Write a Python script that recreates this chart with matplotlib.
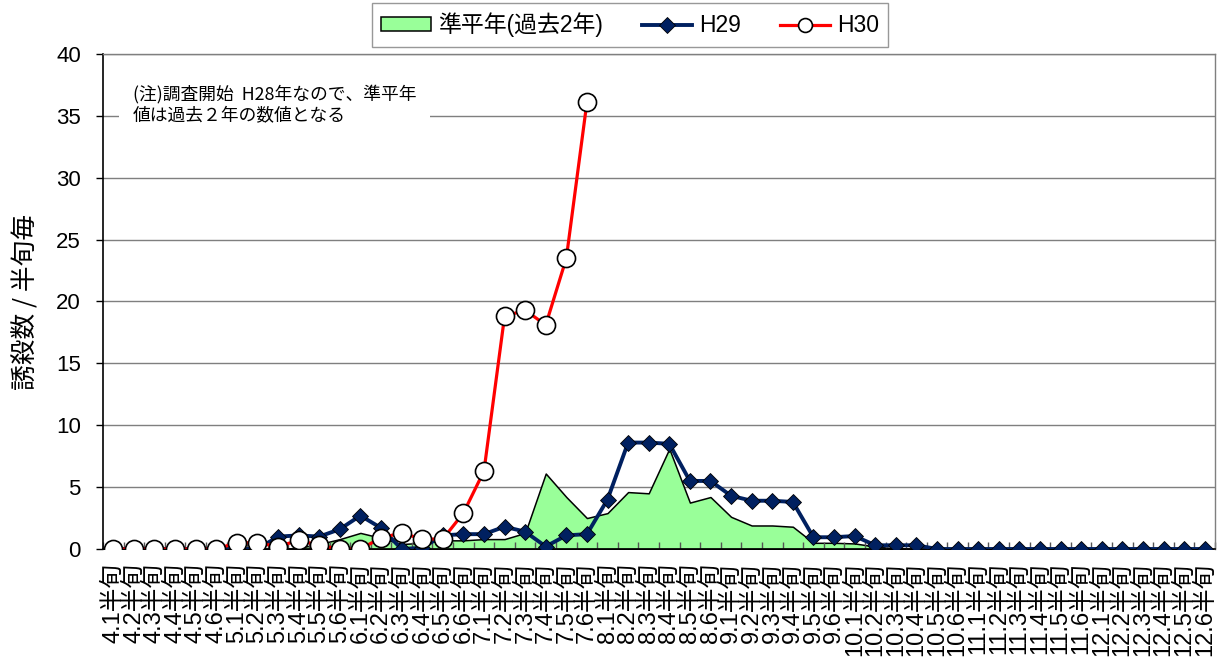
import matplotlib
matplotlib.use("Agg")
import matplotlib.pyplot as plt
import numpy as np
from matplotlib.patches import Patch
from matplotlib.lines import Line2D

plt.rcParams['font.family'] = ['Liberation Sans', 'Noto Sans CJK JP', 'DejaVu Sans']

months = [4, 5, 6, 7, 8, 9, 10, 11, 12]
categories = [f"{m}.{k}半旬" for m in months for k in range(1, 7)]

normal = [0, 0, 0, 0, 0, 0, 0, 0, 0, 0.1, 0.4, 0.8, 1.3, 0.9, 0.4, 0.5, 0.7, 0.7,
          0.8, 0.8, 1.3, 6.1, 4.2, 2.5, 2.9, 4.6, 4.5, 8.1, 3.75, 4.2, 2.6, 1.9, 1.9, 1.8,
          0.5, 0.5, 0.45, 0.2, 0.05, 0, 0, 0, 0, 0, 0, 0, 0, 0, 0, 0, 0, 0, 0, 0]
h29 = [0, 0, 0, 0, 0, 0, 0, 0, 1.0, 1.1, 1.0, 1.6, 2.7, 1.7, 0.0, 0.1, 1.1, 1.2,
       1.2, 1.8, 1.4, 0.2, 1.1, 1.2, 4.0, 8.6, 8.6, 8.5, 5.5, 5.5, 4.3, 3.9, 3.9, 3.8,
       0.95, 0.95, 1.05, 0.3, 0.3, 0.3, 0, 0, 0, 0, 0, 0, 0, 0, 0, 0, 0, 0, 0, 0]
h30 = [0, 0, 0, 0, 0, 0, 0.5, 0.5, 0.2, 0.7, 0.3, 0, 0, 0.9, 1.3, 0.8, 0.8, 2.9,
       6.3, 18.8, 19.3, 18.1, 23.5, 36.1]

yticks = [0, 5, 10, 15, 20, 25, 30, 35, 40]
legend_labels = ["準平年(過去2年)", "H29", "H30"]
ylabel = "誘殺数 / 半旬毎"
note = "(注)調査開始  H28年なので、準平年\n値は過去２年の数値となる"

x = np.arange(len(categories))

fig = plt.figure(figsize=(12.25, 6.59), dpi=100)
ax = fig.add_axes([103/1225, 1-549/659, (1215-103)/1225, (549-54)/659])

for yv in yticks[1:]:
    ax.axhline(yv, color='#7f7f7f', lw=1.0, zorder=0.5)

ax.fill_between(x, normal, 0, facecolor='#99FF99', edgecolor='black', lw=1.1, zorder=1)
ax.plot(x, h29, color='#002060', lw=2.8, marker='D', markersize=8.5,
        markerfacecolor='#002060', markeredgecolor='black', markeredgewidth=0.6, zorder=3)
ax.plot(np.arange(len(h30)), h30, color='#FF0000', lw=2.3, marker='o', markersize=13,
        markerfacecolor='white', markeredgecolor='black', markeredgewidth=1.2, zorder=4)

ax.set_xlim(-0.5, len(categories) - 0.5)
ax.set_ylim(0, 40)
ax.set_yticks(yticks)
ax.set_yticklabels([str(v) for v in yticks], fontsize=16)
ax.tick_params(axis='y', direction='out', length=5, width=1, pad=11)

ax.set_xticks(x)
ax.set_xticklabels(categories, rotation=90, fontsize=17, va='top', ha='center')
ax.set_xticks(np.arange(-0.5, len(categories)), minor=True)
ax.tick_params(axis='x', which='major', length=0, pad=10)
ax.tick_params(axis='x', which='minor', direction='in', length=5, width=1, color='#555555')

for s in ['left', 'bottom']:
    ax.spines[s].set_color('black')
    ax.spines[s].set_linewidth(1.2)
for s in ['top', 'right']:
    ax.spines[s].set_color('#7f7f7f')
    ax.spines[s].set_linewidth(1.0)

ax.set_ylabel(ylabel, fontsize=18.5, family=['Noto Sans CJK JP', 'DejaVu Sans'], labelpad=12)

ax.text(0.027, 0.897, note, transform=ax.transAxes, fontsize=12.8, va='center', ha='left',
        family=['Noto Sans CJK JP', 'DejaVu Sans'], linespacing=1.25, zorder=5,
        bbox=dict(facecolor='white', edgecolor='none', pad=10))

handles = [Patch(facecolor='#99FF99', edgecolor='black', lw=1.1),
           Line2D([], [], color='#002060', lw=2.8, marker='D', markersize=8.5,
                  markerfacecolor='#002060', markeredgecolor='black', markeredgewidth=0.6),
           Line2D([], [], color='#FF0000', lw=2.3, marker='o', markersize=10,
                  markerfacecolor='white', markeredgecolor='black', markeredgewidth=1.2)]
leg = fig.legend(handles, legend_labels, loc='center', bbox_to_anchor=(630/1225, 1-25/659),
                 ncol=3, fontsize=16.5, frameon=True, fancybox=False, edgecolor='#7f7f7f',
                 handlelength=2.2, handleheight=0.55, columnspacing=1.7, handletextpad=0.3,
                 borderpad=0.4)
leg.get_frame().set_linewidth(1.0)

fig.savefig("out.png", dpi=100)
